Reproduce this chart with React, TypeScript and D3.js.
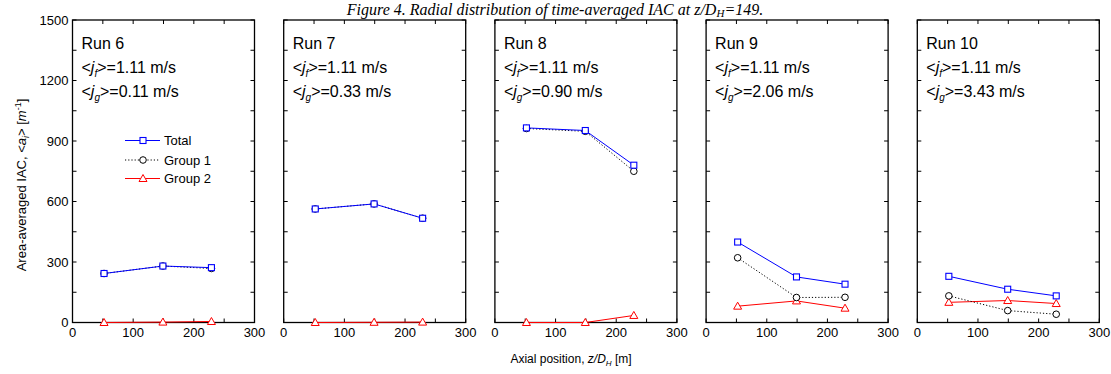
import React from 'react';
import * as d3 from 'd3';

// chart data
const runs = ['Run 6', 'Run 7', 'Run 8', 'Run 9', 'Run 10'];
const jf = ['1.11', '1.11', '1.11', '1.11', '1.11'];
const jg = ['0.11', '0.33', '0.90', '2.06', '3.43'];
const zPos = [52, 149, 229];
const total = [
  [243, 280, 272],
  [563, 588, 517],
  [965, 952, 780],
  [399, 226, 190],
  [229, 165, 132],
];
const group1 = [
  [243, 280, 268],
  [563, 588, 517],
  [962, 948, 750],
  [321, 124, 125],
  [132, 59, 41],
];
const group2 = [
  [0, 2, 5],
  [0, 1, 2],
  [0, 0, 35],
  [81, 107, 71],
  [100, 109, 94],
];
const yTicks = [0, 300, 600, 900, 1200, 1500];
const xTicks = [0, 100, 200, 300];

const W = 1111;
const H = 374;
const panelLeft0 = 72.5;
const panelStep = 211.2;
const panelW = 182;
const top = 20;
const bottom = 322.5;
const font = 'Arial, "Liberation Sans", sans-serif';

const BLUE = '#0000ff';
const RED = '#ff0000';

const y = d3.scaleLinear().domain([0, 1500]).range([bottom, top]);

const Square = ({ cx, cy }: { cx: number; cy: number }) => (
  <rect x={cx - 3} y={cy - 3} width={6} height={6} fill="white" stroke={BLUE} strokeWidth={1.1} />
);
const Circle = ({ cx, cy }: { cx: number; cy: number }) => (
  <circle cx={cx} cy={cy} r={3.3} fill="white" stroke="black" strokeWidth={1} />
);
const Tri = ({ cx, cy }: { cx: number; cy: number }) => (
  <path d={`M${cx},${cy - 4} L${cx + 4},${cy + 3} L${cx - 4},${cy + 3} Z`} fill="white" stroke={RED} strokeWidth={1} />
);

const Panel = ({ i }: { i: number }) => {
  const x0 = panelLeft0 + i * panelStep;
  const x = d3.scaleLinear().domain([0, 300]).range([x0, x0 + panelW]);
  const line = d3.line<number>().x((_, k) => x(zPos[k])).y((d) => y(d));
  const minorY = d3.range(0, 1501, 150);
  const minorX = d3.range(0, 301, 50);
  return (
    <g>
      {/* ticks */}
      {minorY.map((v) => (
        <g key={'y' + v}>
          <line x1={x0} x2={x0 + 4} y1={y(v)} y2={y(v)} stroke="black" strokeWidth={1} />
          <line x1={x0 + panelW} x2={x0 + panelW - 4} y1={y(v)} y2={y(v)} stroke="black" strokeWidth={1} />
        </g>
      ))}
      {minorX.map((v) => (
        <g key={'x' + v}>
          <line x1={x(v)} x2={x(v)} y1={bottom} y2={bottom - 4} stroke="black" strokeWidth={1} />
          <line x1={x(v)} x2={x(v)} y1={top} y2={top + 4} stroke="black" strokeWidth={1} />
        </g>
      ))}
      <rect x={x0} y={top} width={panelW} height={bottom - top} fill="none" stroke="black" strokeWidth={1.3} />
      {xTicks.map((v) => (
        <text key={'xl' + v} x={x(v)} y={337} textAnchor="middle" fontSize={13} fontFamily={font}>
          {v}
        </text>
      ))}
      {i === 0 &&
        yTicks.map((v) => (
          <text key={'yl' + v} x={x0 - 4} y={y(v) + 4.5} textAnchor="end" fontSize={13} fontFamily={font}>
            {v}
          </text>
        ))}
      {/* series */}
      <path d={line(group2[i]) || ''} fill="none" stroke={RED} strokeWidth={1} />
      <path d={line(group1[i]) || ''} fill="none" stroke="black" strokeWidth={1} strokeDasharray="1.2,2" />
      <path d={line(total[i]) || ''} fill="none" stroke={BLUE} strokeWidth={1} />
      {group2[i].map((v, k) => <Tri key={'t' + k} cx={x(zPos[k])} cy={y(v)} />)}
      {group1[i].map((v, k) => <Circle key={'c' + k} cx={x(zPos[k])} cy={y(v)} />)}
      {total[i].map((v, k) => <Square key={'s' + k} cx={x(zPos[k])} cy={y(v)} />)}
      {/* labels */}
      <g fontFamily={font} fontSize={16}>
        <text x={x0 + 9} y={49}>{runs[i]}</text>
        <text x={x0 + 9} y={73}>
          {'<'}
          <tspan fontStyle="italic">j</tspan>
          <tspan fontStyle="italic" fontSize={10} dy={4}>f</tspan>
          <tspan dy={-4}>{`>=${jf[i]} m/s`}</tspan>
        </text>
        <text x={x0 + 9} y={97}>
          {'<'}
          <tspan fontStyle="italic">j</tspan>
          <tspan fontStyle="italic" fontSize={10} dy={4}>g</tspan>
          <tspan dy={-4}>{`>=${jg[i]} m/s`}</tspan>
        </text>
      </g>
    </g>
  );
};

const Legend = () => {
  const lx = 125;
  const rows = [
    { label: 'Total', y: 140.5, color: BLUE, dash: undefined, M: Square },
    { label: 'Group 1', y: 160, color: 'black', dash: '1.2,2', M: Circle },
    { label: 'Group 2', y: 178.5, color: RED, dash: undefined, M: Tri },
  ];
  return (
    <g>
      {rows.map((r) => (
        <g key={r.label}>
          <line x1={lx} x2={lx + 35} y1={r.y} y2={r.y} stroke={r.color} strokeWidth={1} strokeDasharray={r.dash} />
          <r.M cx={lx + 18} cy={r.y} />
          <text x={lx + 39} y={r.y + 4.5} fontSize={13} fontFamily={font}>
            {r.label}
          </text>
        </g>
      ))}
    </g>
  );
};

export default function App() {
  return (
    <svg width={W} height={H} style={{ position: 'absolute', left: 0, top: 0, background: 'white' }}>
      <rect width={W} height={H} fill="white" />
      <text x={555} y={15} textAnchor="middle" fontSize={16} fontStyle="italic" fontFamily='"Liberation Serif", "Times New Roman", serif'>
        Figure 4. Radial distribution of time-averaged IAC at z/D
        <tspan fontSize={11} dy={2}>H</tspan>
        <tspan dy={-2}>=149.</tspan>
      </text>
      {runs.map((_, i) => (
        <Panel key={i} i={i} />
      ))}
      <Legend />
      <text x={571} y={363} textAnchor="middle" fontSize={12} fontFamily={font}>
        Axial position, <tspan fontStyle="italic">z/D</tspan>
        <tspan fontStyle="italic" fontSize={8} dy={3}>H</tspan>
        <tspan dy={-3}> [m]</tspan>
      </text>
      <text transform="translate(26,185) rotate(-90)" textAnchor="middle" fontSize={13} fontFamily={font}>
        Area-averaged IAC, {'<'}
        <tspan fontStyle="italic">a</tspan>
        <tspan fontStyle="italic" fontSize={9} dy={3}>i</tspan>
        <tspan dy={-3}>{'> ['}</tspan>
        <tspan fontStyle="italic">m</tspan>
        <tspan fontSize={9} dy={-5}>-1</tspan>
        <tspan dy={5}>]</tspan>
      </text>
    </svg>
  );
}
